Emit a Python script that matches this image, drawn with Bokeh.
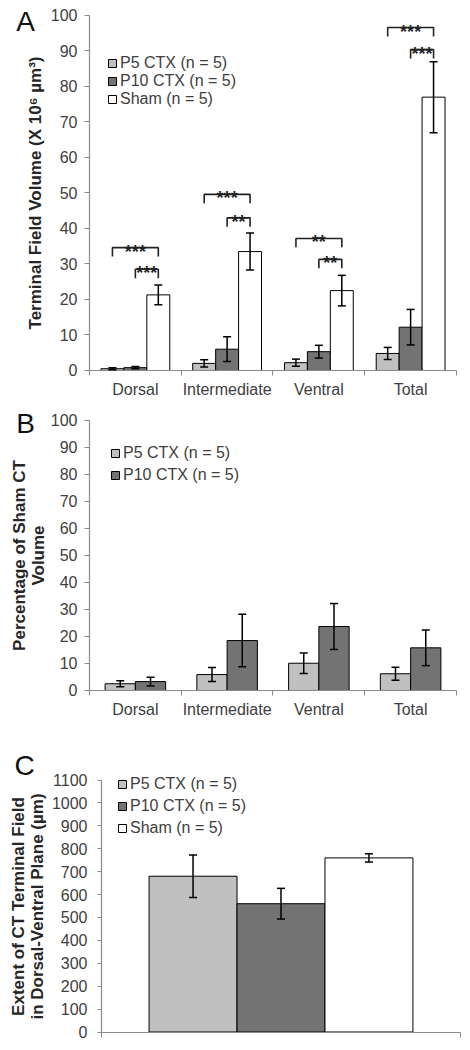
from bokeh.plotting import figure
from bokeh.models import (Range1d, FixedTicker, SingleIntervalTicker, Whisker, TeeHead,
                          ColumnDataSource, Label)
from bokeh.layouts import column
from bokeh.embed import file_html
from bokeh.resources import INLINE
from bokeh.core.properties import value

FONT = "Liberation Sans"

# ---------------- data ----------------
regions = ["Dorsal", "Intermediate", "Ventral", "Total"]
groups = ["P5 CTX (n = 5)", "P10 CTX (n = 5)", "Sham (n = 5)"]
colors = ["#c0c0c0", "#737373", "#ffffff"]

# Panel A: terminal field volume (x 10^6 um^3)
a_p5 = [0.5, 2.0, 2.2, 4.8]
a_p5_err = [0.3, 1.0, 1.0, 1.7]
a_p10 = [0.8, 6.0, 5.3, 12.2]
a_p10_err = [0.3, 3.5, 1.8, 5.0]
a_sham = [21.3, 33.5, 22.5, 77.0]
a_sham_err = [2.8, 5.2, 4.3, 10.0]

# Panel A significance brackets (region index, first group index, bracket level, label)
sig_region = [0, 0, 1, 1, 2, 2, 3, 3]
sig_from = [0, 1, 0, 1, 0, 1, 0, 1]
sig_level = [34.6, 28.5, 49.6, 43.0, 37.2, 31.3, 96.6, 90.4]
sig_label = ["***", "***", "***", "**", "**", "**", "***", "***"]

# Panel B: percentage of sham CT volume
b_p5 = [2.5, 5.9, 10.1, 6.2]
b_p5_err = [1.1, 2.6, 3.8, 2.4]
b_p10 = [3.3, 18.5, 23.7, 15.8]
b_p10_err = [1.6, 9.7, 8.5, 6.6]

# Panel C: dorsal-ventral extent (um)
c_vals = [680, 560, 760]
c_err = [93, 67, 18]

AX_COL = "#8a8a8a"
TXT_COL = "#404040"


def style_fig(p):
    p.xgrid.visible = False
    p.ygrid.visible = False
    p.outline_line_color = None
    for ax in list(p.xaxis) + list(p.yaxis):
        ax.axis_line_color = AX_COL
        ax.axis_line_width = 1.2
        ax.major_tick_line_color = AX_COL
        ax.minor_tick_line_color = None
        ax.major_tick_in = 0
        ax.major_tick_out = 5
        ax.major_label_standoff = 7
        ax.major_label_text_font = FONT
        ax.major_label_text_font_size = "16px"
        ax.major_label_text_color = TXT_COL
        ax.axis_label_text_font = FONT
        ax.axis_label_text_font_size = "17px"
        ax.axis_label_text_font_style = "bold"
        ax.axis_label_text_color = "#262626"
        ax.axis_label_text_line_height = 1.0


def category_axis(p):
    ax = p.xaxis[0]
    ax.fixed_location = 0
    ax.ticker = FixedTicker(ticks=list(range(len(regions))),
                            minor_ticks=[i - 0.5 for i in range(len(regions) + 1)])
    ax.major_label_overrides = {i: r for i, r in enumerate(regions)}
    ax.major_tick_line_color = None
    ax.minor_tick_line_color = AX_COL
    ax.minor_tick_in = 0
    ax.minor_tick_out = 5
    ax.major_label_standoff = 6
    ax.bounds = (-0.5, len(regions) - 0.5)


def add_bars(p, xs, tops, errs, width, color, label):
    src = ColumnDataSource(dict(x=xs, top=tops,
                                upper=[t + e for t, e in zip(tops, errs)],
                                lower=[t - e for t, e in zip(tops, errs)]))
    p.vbar(x="x", top="top", width=width, source=src, fill_color=color,
           line_color="black", line_width=1, legend_label=label)
    wh = Whisker(source=src, base="x", upper="upper", lower="lower",
                 line_color="black", line_width=1.5, level="annotation",
                 upper_head=TeeHead(size=8, line_color="black", line_width=1.5),
                 lower_head=TeeHead(size=8, line_color="black", line_width=1.5))
    p.add_layout(wh)


def style_legend(p, loc, row_h):
    lg = p.legend[0]
    lg.location = loc
    lg.border_line_color = None
    lg.background_fill_alpha = 0
    lg.label_text_font = FONT
    lg.label_text_font_size = "16px"
    lg.label_text_color = TXT_COL
    lg.glyph_width = 10
    lg.glyph_height = 10
    lg.label_height = row_h
    lg.label_standoff = 3
    lg.spacing = 0
    lg.padding = 0
    lg.margin = 0


def panel_letter(p, x, y, txt):
    p.add_layout(Label(x=x, y=y, text=txt, text_font=FONT, text_font_size="28px",
                       text_align="center", text_baseline="middle", text_color="#111111"))


def make_fig(height, xr, yr):
    # the frame fills the whole figure; both axes are pinned inside it
    return figure(width=462, height=height, x_range=xr, y_range=yr,
                  output_backend="svg", toolbar_location=None,
                  min_border_left=0, min_border_right=0,
                  min_border_top=0, min_border_bottom=0)


# ---------------- Panel A ----------------
wA = 0.25
offA = [-wA, 0.0, wA]
pA = make_fig(400, Range1d(-1.470, 3.5654), Range1d(-8.451, 104.225))
for g, (vals, errs) in enumerate([(a_p5, a_p5_err), (a_p10, a_p10_err), (a_sham, a_sham_err)]):
    add_bars(pA, [i + offA[g] for i in range(len(regions))], vals, errs, wA, colors[g], groups[g])
style_fig(pA)
category_axis(pA)
yA = pA.yaxis[0]
yA.fixed_location = -0.5
yA.bounds = (0, 100)
yA.ticker = SingleIntervalTicker(interval=10, num_minor_ticks=0)
yA.axis_label = "Terminal Field Volume (X 10\u2076 \u00b5m\u00b3)"
yA.axis_label_standoff = 3
style_legend(pA, (107, 292), 18)

leg = 2.5
bxs, bys, tx, ty = [], [], [], []
for r, f, lvl in zip(sig_region, sig_from, sig_level):
    xl = r + offA[f]
    xr = r + offA[2]
    bxs.append([xl, xl, xr, xr])
    bys.append([lvl - leg, lvl, lvl, lvl - leg])
    tx.append((xl + xr) / 2)
    ty.append(lvl)
pA.multi_line(xs=bxs, ys=bys, line_color="#222222", line_width=1.6)
pA.text(x=tx, y=ty, text=sig_label, text_align="center", text_baseline="alphabetic",
        y_offset=4, text_font=value(FONT), text_font_size="18px", text_font_style="bold",
        text_color="#222222")
panel_letter(pA, -1.1975, 98.3, "A")

# ---------------- Panel B ----------------
wB = 0.33
offB = [-wB / 2, wB / 2]
pB = make_fig(335, Range1d(-1.470, 3.5654), Range1d(-16.667, 107.407))
for g, (vals, errs) in enumerate([(b_p5, b_p5_err), (b_p10, b_p10_err)]):
    add_bars(pB, [i + offB[g] for i in range(len(regions))], vals, errs, wB, colors[g], groups[g])
style_fig(pB)
category_axis(pB)
yB = pB.yaxis[0]
yB.fixed_location = -0.5
yB.bounds = (0, 100)
yB.ticker = SingleIntervalTicker(interval=10, num_minor_ticks=0)
yB.axis_label = "Percentage of Sham CT\nVolume"
yB.axis_label_standoff = 0
style_legend(pB, (110, 249), 22)
panel_letter(pB, -1.1975, 98.9, "B")

# ---------------- Panel C ----------------
wC = 0.245
offC = [-wC, 0.0, wC]
pC = make_fig(307, Range1d(-0.28134, 1.00557), Range1d(-45.83, 1294.25))
for g in range(len(groups)):
    add_bars(pC, [0.5 + offC[g]], [c_vals[g]], [c_err[g]], wC, colors[g], groups[g])
style_fig(pC)
xC = pC.xaxis[0]
xC.fixed_location = 0
xC.ticker = FixedTicker(ticks=[0, 1])
xC.major_label_overrides = {0: "", 1: ""}
xC.major_label_text_font_size = "1px"
xC.major_label_standoff = 0
xC.bounds = (0, 1)
yC = pC.yaxis[0]
yC.fixed_location = 0
yC.bounds = (0, 1100)
yC.ticker = SingleIntervalTicker(interval=100, num_minor_ticks=0)
yC.major_tick_out = 4
yC.major_label_standoff = 10
yC.axis_label = "Extent of CT Terminal Field\nin Dorsal-Ventral Plane (\u00b5m)"
yC.axis_label_standoff = 2
style_legend(pC, (117, 203), 22)
panel_letter(pC, -0.2145, 1163.3, "C")

layout = column(pA, pB, pC, spacing=0)
open("out.html", "w").write(file_html(layout, INLINE))
